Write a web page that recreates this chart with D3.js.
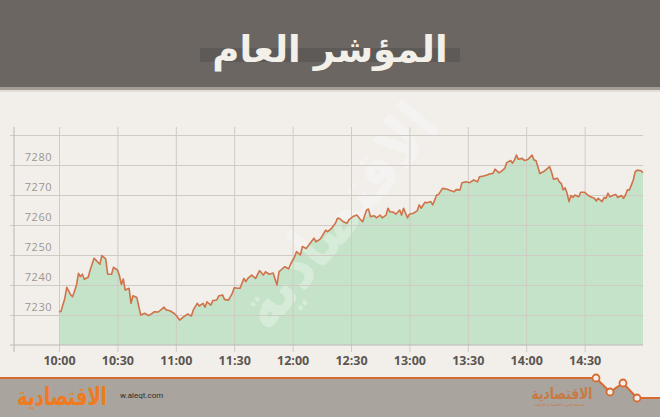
<!DOCTYPE html>
<html>
<head>
<meta charset="utf-8">
<script src="https://cdn.jsdelivr.net/npm/d3@7"></script>
<style>
html,body{margin:0;padding:0;background:#f2efeb;}
svg{display:block;}
</style>
</head>
<body>
<svg id="chart" width="660" height="417"></svg>
<script>
const title = "المؤشر العام";
const brand = "الاقتصادية";
const site = "w.aleqt.com";

const times = ["10:00","10:01","10:03","10:04","10:06","10:07","10:09","10:10","10:11","10:12","10:13","10:15","10:16","10:18","10:19","10:21","10:22","10:24","10:25","10:27","10:28","10:30","10:31","10:32","10:33","10:34","10:36","10:37","10:38","10:40","10:41","10:42","10:44","10:46","10:48","10:49","10:51","10:54","10:55","10:57","10:59","11:00","11:02","11:04","11:06","11:08","11:09","11:11","11:12","11:14","11:15","11:16","11:18","11:19","11:21","11:22","11:24","11:25","11:27","11:29","11:30","11:32","11:33","11:35","11:36","11:37","11:39","11:41","11:43","11:45","11:46","11:48","11:50","11:52","11:53","11:54","11:56","11:58","11:59","12:01","12:02","12:04","12:05","12:07","12:09","12:11","12:12","12:14","12:15","12:17","12:18","12:20","12:22","12:23","12:24","12:26","12:28","12:29","12:31","12:33","12:35","12:36","12:38","12:39","12:40","12:42","12:43","12:45","12:46","12:48","12:49","12:50","12:52","12:53","12:55","12:56","12:57","12:59","13:00","13:02","13:04","13:05","13:06","13:08","13:09","13:11","13:12","13:14","13:15","13:17","13:19","13:21","13:23","13:24","13:26","13:27","13:29","13:31","13:33","13:35","13:36","13:38","13:40","13:41","13:43","13:44","13:46","13:47","13:49","13:50","13:52","13:53","13:54","13:55","13:56","13:58","13:59","14:00","14:01","14:03","14:04","14:05","14:06","14:07","14:09","14:11","14:12","14:13","14:14","14:16","14:17","14:18","14:19","14:20","14:21","14:22","14:23","14:24","14:25","14:27","14:28","14:30","14:32","14:33","14:35","14:36","14:37","14:39","14:40","14:41","14:42","14:43","14:45","14:46","14:47","14:49","14:50","14:51","14:52","14:53","14:54","14:55","14:56","14:57","14:59","15:00"];

const values = [7231.1,7231.2,7235.6,7239.2,7236.7,7236.1,7240.0,7243.9,7242.8,7243.6,7241.9,7242.6,7245.0,7248.9,7248.3,7246.9,7249.8,7248.7,7243.6,7243.6,7245.9,7245.0,7243.3,7240.2,7242.0,7238.3,7238.9,7233.9,7236.4,7235.8,7232.8,7230.0,7230.6,7229.8,7230.6,7231.1,7231.0,7232.6,7231.7,7231.4,7230.6,7230.0,7228.3,7229.4,7230.3,7229.7,7231.7,7233.9,7233.0,7233.9,7232.6,7234.4,7233.3,7234.8,7235.0,7236.3,7236.7,7235.2,7234.9,7237.2,7239.1,7238.9,7238.9,7242.2,7241.1,7242.2,7243.3,7242.2,7244.8,7243.3,7244.4,7243.6,7244.0,7240.0,7244.4,7245.0,7246.1,7245.4,7247.0,7249.4,7251.1,7250.0,7252.8,7252.2,7253.9,7255.6,7254.4,7255.2,7256.1,7258.3,7257.8,7258.9,7260.6,7262.2,7262.2,7261.1,7260.6,7261.8,7262.8,7263.3,7261.7,7261.1,7265.0,7265.3,7262.8,7263.1,7262.4,7263.3,7262.4,7263.3,7265.6,7264.4,7264.2,7263.6,7265.0,7263.3,7265.6,7262.4,7263.6,7263.9,7264.7,7266.7,7265.6,7267.6,7267.4,7267.8,7266.7,7270.0,7270.2,7272.2,7272.0,7271.5,7271.1,7271.8,7271.7,7274.1,7274.4,7274.1,7275.0,7274.4,7276.1,7276.3,7276.7,7277.0,7277.2,7278.6,7277.4,7277.8,7278.9,7280.8,7281.5,7280.6,7281.7,7283.3,7281.9,7282.2,7281.5,7281.7,7281.9,7283.3,7281.7,7281.5,7279.4,7277.2,7277.8,7278.9,7279.5,7277.7,7275.3,7275.6,7274.4,7273.9,7271.7,7272.4,7270.6,7267.8,7269.8,7269.2,7270.0,7269.4,7270.9,7270.9,7269.8,7269.4,7268.9,7268.0,7268.9,7267.8,7269.2,7268.9,7270.6,7269.4,7270.0,7270.2,7269.2,7269.8,7268.9,7270.0,7271.7,7271.7,7273.3,7275.0,7277.8,7278.3,7278.1,7277.4];

const xTickLabels = ["10:00","10:30","11:00","11:30","12:00","12:30","13:00","13:30","14:00","14:30"];
const yGridValues = [7230,7240,7250,7260,7270,7280,7290];
const yTickLabels = ["7230","7240","7250","7260","7270","7280",""];
const timeDomain = ["10:00","15:00"];
const valueDomain = [7220,7290];

const parse = d3.timeParse("%H:%M");
const data = times.map((t,i)=>({t:parse(t), v:values[i]}));

const svg = d3.select("#chart");

// background
svg.append("rect").attr("width",660).attr("height",417).attr("fill","#f2efeb");

// header
svg.append("rect").attr("x",0).attr("y",0).attr("width",660).attr("height",88).attr("fill","#6b6662");
svg.append("rect").attr("x",0).attr("y",87).attr("width",660).attr("height",3).attr("fill","#a39d95");
svg.append("rect").attr("x",0).attr("y",90).attr("width",660).attr("height",2).attr("fill","#e2ddd6");
svg.append("rect").attr("x",200).attr("y",48).attr("width",260).attr("height",14).attr("fill","#5e5a57");
svg.append("text").attr("x",330).attr("y",62).attr("text-anchor","middle")
  .attr("font-family","DejaVu Sans").attr("font-weight","bold").attr("font-size",37)
  .attr("fill","#f3efe9").text(title);

const x = d3.scaleTime().domain(timeDomain.map(parse)).range([59,643]);
const y = d3.scaleLinear().domain(valueDomain).range([345,135]);

// clip for watermark
svg.append("defs").append("clipPath").attr("id","plotclip")
  .append("rect").attr("x",14).attr("y",92).attr("width",630).attr("height",260);

// area
const area = d3.area().x(d=>x(d.t)).y0(y(valueDomain[0])).y1(d=>y(d.v));
svg.append("path").datum(data).attr("d",area).attr("fill","#c5e3c8");

// watermark
svg.append("g").attr("clip-path","url(#plotclip)")
  .append("text").attr("transform","translate(355,230) rotate(-50)")
  .attr("text-anchor","middle").attr("font-family","DejaVu Sans").attr("font-weight","bold")
  .attr("font-size",64).attr("fill","#ffffff").attr("opacity",0.3)
  .attr("textLength",270).attr("lengthAdjust","spacingAndGlyphs").text(brand);

// y grid
const yAxis = d3.axisRight(y).tickValues(yGridValues).tickSize(633)
  .tickFormat((d,i)=>yTickLabels[i]);
const gy = svg.append("g").attr("transform","translate(10,0)").call(yAxis);
gy.select(".domain").remove();
gy.selectAll("line").attr("stroke","#cfcac4");
gy.selectAll("text").attr("x",42).attr("dy","-0.45em").attr("text-anchor","end")
  .attr("font-family","Open Sans").attr("font-size",11).attr("fill","#9b9692").attr("letter-spacing",0.5);

// x grid + labels
const xAxis = d3.axisBottom(x).tickValues(xTickLabels.map(parse)).tickFormat((d,i)=>xTickLabels[i]).tickSizeOuter(0);
const gx = svg.append("g").attr("transform","translate(0,345)").call(xAxis);
gx.select(".domain").remove();
gx.selectAll("line").attr("y1",7).attr("y2",-218).attr("stroke","#cfcac4");
gx.selectAll("text").attr("y",20).attr("dy",0)
  .attr("font-family","Open Sans").attr("font-weight","bold").attr("font-size",12.5).attr("fill","#5b5651");

// axes lines
svg.append("line").attr("x1",10).attr("x2",643).attr("y1",345).attr("y2",345).attr("stroke","#bdb8b2");
svg.append("line").attr("x1",14).attr("x2",14).attr("y1",127).attr("y2",352).attr("stroke","#bdb8b2");

// line
const line = d3.line().x(d=>x(d.t)).y(d=>y(d.v));
svg.append("path").datum(data).attr("d",line).attr("fill","none")
  .attr("stroke","#d0724a").attr("stroke-width",1.6).attr("stroke-linejoin","round");

// footer band
const bandPts = [[0,378],[596,378],[610,392],[623,383],[637,398],[660,398],[660,417],[0,417]];
svg.append("path").attr("d",d3.line()(bandPts)+"Z").attr("fill","#aaa49e");
const ol = bandPts.slice(0,6);
svg.append("path").attr("d",d3.line()(ol)).attr("fill","none").attr("stroke","#d9692f").attr("stroke-width",2);
svg.selectAll("circle.dot").data(ol.slice(1,5)).enter().append("circle")
  .attr("cx",d=>d[0]).attr("cy",d=>d[1]).attr("r",3.5)
  .attr("fill","#f2efeb").attr("stroke","#d9692f").attr("stroke-width",1.8);

svg.append("text").attr("transform","translate(62,405) scale(1,1.4)").attr("text-anchor","middle")
  .attr("font-family","DejaVu Sans").attr("font-weight","bold").attr("font-size",18)
  .attr("fill","#f07a1e").text(brand);
svg.append("text").attr("x",120).attr("y",398).attr("font-family","Roboto").attr("font-size",8)
  .attr("fill","#2f2c2a").text(site);
svg.append("text").attr("x",562).attr("y",399).attr("text-anchor","middle")
  .attr("font-family","DejaVu Sans").attr("font-weight","bold").attr("font-size",16)
  .attr("fill","#c97a42").attr("textLength",61).attr("lengthAdjust","spacingAndGlyphs").text(brand);
svg.append("text").attr("x",560).attr("y",406).attr("text-anchor","middle")
  .attr("font-family","DejaVu Sans").attr("font-size",4)
  .attr("fill","#c97a42").attr("textLength",50).attr("lengthAdjust","spacingAndGlyphs").text("صحيفة العرب الاقتصادية الدولية");
</script>
</body>
</html>
